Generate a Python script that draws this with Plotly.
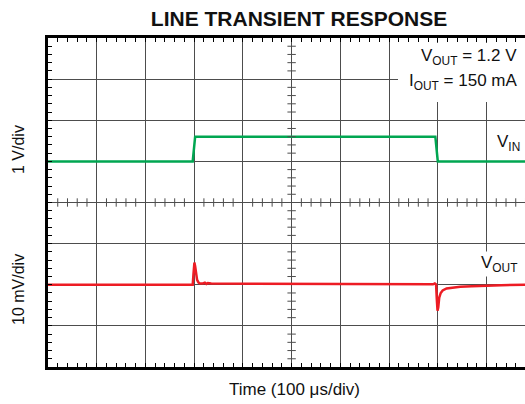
import plotly.graph_objects as go

# ---- waveform data -------------------------------------------------------
# time base: 100 us/div
t_vin = [0, 297, 302, 795, 800, 979]          # us
vin_step = [0, 0, 0.6, 0.6, 0, 0]             # V, change of VIN from its low level

t_vout = [0, 297, 298.5, 300.5, 302, 304, 306, 309, 312, 318, 322, 325, 328,
          335, 400, 500, 600, 700, 790, 794, 796.5, 798, 799.5, 801, 803, 806,
          810, 818, 830, 846, 870, 893, 930, 979]  # us
vout_dev = [0, 0, 2.5, 5.4, 4.5, 2.5, 1.2, 0.5, 0.3, 0.3, 0.5, 0.2, 0.4,
            0.3, 0.25, 0.2, 0.15, 0.1, 0.1, 0.3, 0.1, -3.5, -6.3, -5.5, -3.1, -2.0,
            -1.4, -0.9, -0.7, -0.5, -0.35, -0.2, -0.1, 0.0]  # mV, VOUT deviation

# graticule: 10 x 8 divisions, 5 minor marks per division
x_range = [0, 979]        # us (screen shows 9.79 of the 10 divisions)
vin_range = [-5, 3]       # V,  1 V/div, VIN low level one div above centre
vout_range = [-20, 60]    # mV, 10 mV/div, VOUT two divs below centre
x_center = 500
vin_center = -1

GREEN = "#00a651"
RED = "#ed1c24"
GRID = "#4d4d4d"
FONT = "Liberation Sans, Arial, sans-serif"
TXT = "#111111"

fig = go.Figure()

fig.add_trace(go.Scatter(x=t_vin, y=vin_step, mode="lines",
                         line=dict(color=GREEN, width=2.5), yaxis="y",
                         showlegend=False, hoverinfo="skip"))
fig.add_trace(go.Scatter(x=t_vout, y=vout_dev, mode="lines",
                         line=dict(color=RED, width=2.5), yaxis="y2",
                         showlegend=False, hoverinfo="skip"))

# small cross marks along the centre lines
minor_x = [x_range[0] + 20 * i for i in range(0, 51) if (20 * i) % 100]
minor_y = [vin_range[0] + 0.2 * i for i in range(0, 41) if i % 5]
fig.add_trace(go.Scatter(x=minor_x, y=[vin_center] * len(minor_x), mode="markers",
                         marker=dict(symbol="line-ns", size=6,
                                     line=dict(color=GRID, width=1)),
                         yaxis="y", showlegend=False, hoverinfo="skip"))
fig.add_trace(go.Scatter(x=[x_center] * len(minor_y), y=minor_y, mode="markers",
                         marker=dict(symbol="line-ew", size=6,
                                     line=dict(color=GRID, width=1)),
                         yaxis="y", showlegend=False, hoverinfo="skip"))

fig.update_layout(
    width=525, height=404,
    margin=dict(l=48, r=0, t=38, b=37),
    paper_bgcolor="white", plot_bgcolor="white",
    font=dict(family=FONT, color=TXT),
    title=dict(text="<b>LINE TRANSIENT RESPONSE</b>", x=299 / 525, xanchor="center",
               xref="container", y=1 - 19 / 404, yanchor="middle", yref="container",
               font=dict(size=21, family=FONT, color=TXT)),
    xaxis=dict(range=x_range, dtick=100, tick0=0, showgrid=True, gridcolor=GRID,
               gridwidth=1, zeroline=False, showticklabels=False,
               showline=True, linecolor="black", linewidth=3, mirror="allticks",
               ticks="inside", ticklen=4, tickcolor="black", tickwidth=1,
               minor=dict(dtick=20, tick0=0, ticks="inside", ticklen=4,
                          tickcolor="black", tickwidth=1, showgrid=False)),
    yaxis=dict(range=vin_range, dtick=1, tick0=0, showgrid=True, gridcolor=GRID,
               gridwidth=1, zeroline=False, showticklabels=False,
               showline=True, linecolor="black", linewidth=3, mirror=False,
               ticks="inside", ticklen=4, tickcolor="black", tickwidth=1,
               minor=dict(dtick=0.2, tick0=0, ticks="inside", ticklen=4,
                          tickcolor="black", tickwidth=1, showgrid=False)),
    yaxis2=dict(range=vout_range, overlaying="y", visible=False),
)

# white panel behind the operating conditions (kept clear of the top tick marks)
fig.add_shape(type="rect", xref="paper", yref="paper", layer="above",
              x0=(398 - 48) / 477, x1=1.0, y0=1 - (102 - 38) / 329, y1=1 - (43 - 38) / 329,
              fillcolor="white", line=dict(width=0))

ann_font = dict(family=FONT, size=17, color=TXT)
fig.add_annotation(text="V<sub>OUT</sub> = 1.2 V", xref="paper", yref="paper",
                   x=(519 - 48) / 477, y=1 - (57 - 38) / 329, xanchor="right",
                   yanchor="middle", showarrow=False, font=ann_font)
fig.add_annotation(text="I<sub>OUT</sub> = 150 mA", xref="paper", yref="paper",
                   x=(519 - 48) / 477, y=1 - (82 - 38) / 329, xanchor="right",
                   yanchor="middle", showarrow=False, font=ann_font)
fig.add_annotation(text="V<sub>IN</sub>", xref="paper", yref="paper",
                   x=(522 - 48) / 477, y=1 - (143 - 38) / 329, xanchor="right",
                   yanchor="middle", showarrow=False, font=ann_font, bgcolor="white")
fig.add_annotation(text="V<sub>OUT</sub>", xref="paper", yref="paper",
                   x=(519 - 48) / 477, y=1 - (264 - 38) / 329, xanchor="right",
                   yanchor="middle", showarrow=False, font=ann_font, bgcolor="white")

# axis captions
cap_font = dict(family=FONT, size=16, color=TXT)
fig.add_annotation(text="1 V/div", xref="paper", yref="paper", x=-30 / 477,
                   y=1 - (150 - 38) / 329, xanchor="center", yanchor="middle",
                   textangle=-90, showarrow=False, font=cap_font)
fig.add_annotation(text="10 mV/div", xref="paper", yref="paper", x=-30 / 477,
                   y=1 - (290 - 38) / 329, xanchor="center", yanchor="middle",
                   textangle=-90, showarrow=False, font=cap_font)
fig.add_annotation(text="Time (100 \u03bcs/div)", xref="paper", yref="paper",
                   x=(294 - 48) / 477, y=-(389 - 367) / 329, xanchor="center",
                   yanchor="middle", showarrow=False,
                   font=dict(family=FONT, size=17, color=TXT))

fig.write_html("out.html")
